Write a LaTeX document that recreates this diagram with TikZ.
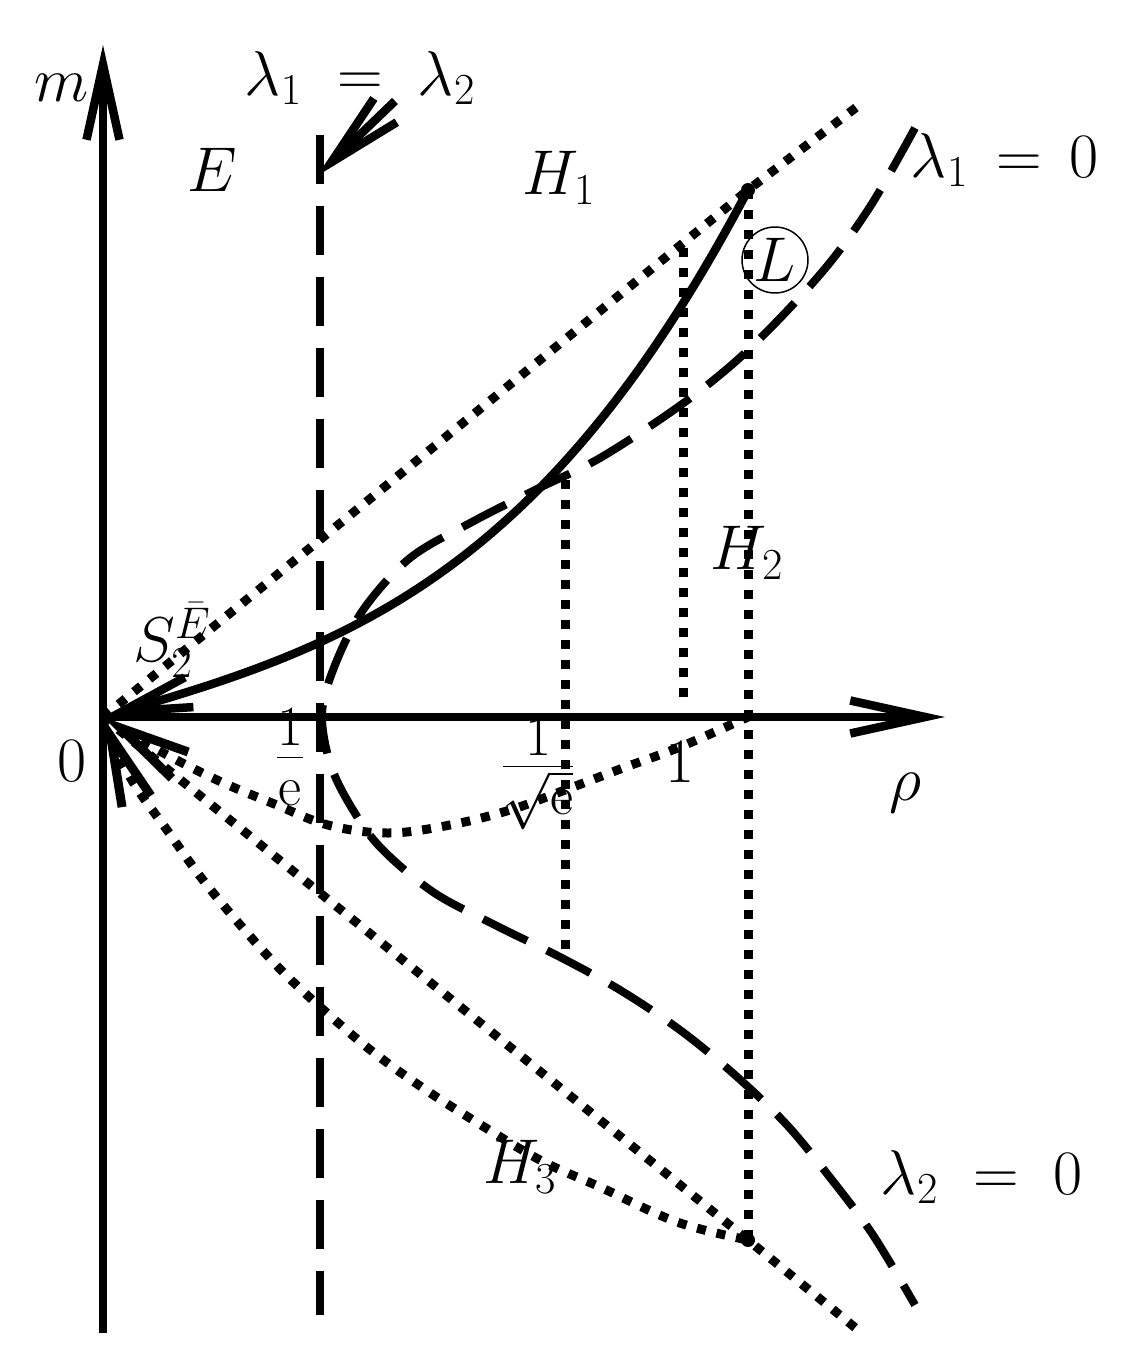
\RequirePackage{fix-cm}
\documentclass[tikz,border=0pt]{standalone}
\usetikzlibrary{arrows.meta}
\tikzset{
  axisline/.style={line width=0.17cm},
  solidcurve/.style={line width=0.17cm},
  dashline/.style={line width=0.16cm, dash pattern=on 0.98cm off 0.44cm},
  dotline/.style={line width=0.18cm, dash pattern=on 0.18cm off 0.22cm},
  barbend/.style={-{Straight Barb[length=1.5cm,width=0.66cm]}},
  barbstart/.style={{Straight Barb[length=1.4cm,width=0.62cm]}-},
  lbl/.style={font=\fontsize{36}{43}\selectfont, inner sep=0pt},
  fraclbl/.style={font=\fontsize{46}{55}\selectfont, inner sep=0pt},
}
\begin{document}
\begin{tikzpicture}[x=0.02cm,y=-0.02cm]
\useasboundingbox (0,0) rectangle (1148,1366);
% key points
\coordinate (O) at (103,717);
\coordinate (ytop) at (103,45);
\coordinate (ybot) at (103,1333);
\coordinate (xend) at (945,717);
\coordinate (P) at (748,190);
\coordinate (Q) at (748,1240);
\coordinate (R) at (748,717);
\coordinate (D1end) at (858,106);
\coordinate (D3end) at (858,1330);
\coordinate (v2t) at (683,248);
\coordinate (v2b) at (683,705);
\coordinate (v3t) at (565,480);
\coordinate (v3b) at (565,955);
\coordinate (vdt) at (320,135);
\coordinate (vdb) at (320,1315);
\coordinate (lamA) at (395,101);
\coordinate (lamB) at (317,176);

% axes
\draw[axisline, barbend] (ybot) -- (ytop);
\draw[axisline, barbend] (O) -- (xend);

% vertical dashed line lambda1 = lambda2
\draw[dashline] (vdt) -- (vdb);
\draw[axisline, barbend] (lamA) -- (lamB);

% lambda curve (dashed)
\draw[dashline] plot[smooth, tension=0.55] coordinates {
 (915,128) (873,202) (832,260) (785,313) (735,362) (678,407) (600,458)
 (535,490) (472,522) (410,558) (363,610) (335,665) (322,713) (330,763)
 (350,805) (380,847) (433,892) (495,925) (560,957) (620,990) (680,1030)
 (735,1075) (787,1125) (832,1180) (873,1235) (915,1305)};

% solid curve
\draw[solidcurve, barbstart] (O) .. controls (353,645) and (548,570) .. (P);

% dotted lines
\draw[dotline] (O) -- (P) -- (D1end);
\draw[dotline] (O) -- (Q) -- (D3end);
\draw[dotline, barbstart] plot[smooth, tension=0.6] coordinates {
 (O) (158,750) (217,780) (272,803) (328,825) (388,833) (450,825)
 (510,810) (565,790) (623,768) (680,747) (R)};
\draw[dotline, barbstart] plot[smooth, tension=0.6] coordinates {
 (O) (130,777) (167,830) (203,880) (242,927) (283,972) (327,1013)
 (373,1052) (423,1088) (473,1120) (540,1160) (600,1187) (677,1222) (Q)};
\draw[dotline] (P) -- (Q);
\draw[dotline] (v2t) -- (v2b);
\draw[dotline] (v3t) -- (v3b);

% marked points
\fill (P) circle[radius=7];
\fill (Q) circle[radius=7];

% circled L
\node[lbl, draw, circle, line width=0.03cm, minimum size=1.32cm] (Lc) at (775,260) {$L$};

% labels
\node[lbl] (mlab) at (62,88) {$m$};
\node[lbl] (rholab) at (905,793) {$\rho$};
\node[lbl] (zero) at (72,761) {$0$};
\node[fraclbl] (inve) at (290,757) {$\frac{1}{\mathrm{e}}$};
\node[fraclbl] (invse) at (538,774) {$\frac{1}{\sqrt{\mathrm{e}}}$};
\node[lbl] (one) at (680,762) {$1$};
\node[lbl] (Elab) at (212,170) {$E$};
\node[lbl] (H1) at (559,178) {$H_1$};
\node[lbl] (l12) at (360,78) {$\lambda_1\;=\;\lambda_2$};
\node[lbl] (l10) at (1005,160) {$\lambda_1\,=\,0$};
\node[lbl] (H2) at (747,553) {$H_2$};
\node[lbl] (S2) at (172,640) {$S_2^{\bar{E}}$};
\node[lbl] (H3) at (520,1167) {$H_3$};
\node[lbl] (l20) at (982,1177) {$\lambda_2\;=\;0$};
\end{tikzpicture}
\end{document}
